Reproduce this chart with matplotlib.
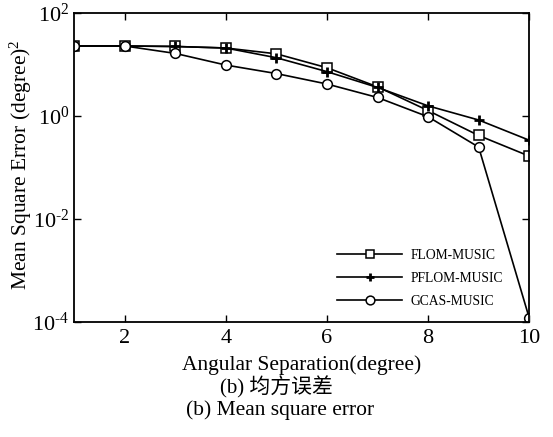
import numpy as np
import matplotlib
matplotlib.use("Agg")
import matplotlib.pyplot as plt
from matplotlib.ticker import FixedLocator, NullLocator

plt.rcParams['font.family'] = ['Liberation Serif', 'Noto Sans CJK SC']
plt.rcParams['mathtext.fontset'] = 'custom'
plt.rcParams['mathtext.rm'] = 'Liberation Serif'
plt.rcParams['mathtext.it'] = 'Liberation Serif:italic'

# Data
angles = [1, 2, 3, 4, 5, 6, 7, 8, 9, 10]
flom_music = [23, 23, 22.5, 21, 16.2, 8.7, 3.7, 1.28, 0.42, 0.167]
pflom_music = [23, 23, 22.5, 21, 13.6, 7.3, 3.6, 1.58, 0.84, 0.34]
gcas_music = [23, 23, 16.5, 9.8, 6.7, 4.2, 2.3, 0.97, 0.25, 1.2e-4]

x_ticks = [2, 4, 6, 8, 10]
y_ticks = [1e-4, 1e-2, 1e0, 1e2]
y_tick_labels = [r'$\mathrm{10}^{\mathrm{\text{-}4}}$', r'$\mathrm{10}^{\mathrm{\text{-}2}}$',
                 r'$\mathrm{10}^{\mathrm{0}}$', r'$\mathrm{10}^{\mathrm{2}}$']

fig = plt.figure(figsize=(5.53, 4.37), dpi=100)
ax = fig.add_axes([0.134, 0.263, 0.823, 0.707])

ax.semilogy(angles, flom_music, color='black', lw=1.2, marker='s', ms=7,
            mfc='white', mec='black', mew=1.1, label='FLOM-MUSIC')
ax.semilogy(angles, pflom_music, color='black', lw=1.2, marker='+', ms=7,
            mew=2.0, label='PFLOM-MUSIC')
ax.semilogy(angles, gcas_music, color='black', lw=1.2, marker='o', ms=7,
            mfc='white', mec='black', mew=1.1, label='GCAS-MUSIC')

ax.set_xlim(1, 10)
ax.set_ylim(1e-4, 1e2)
ax.xaxis.set_major_locator(FixedLocator(x_ticks))
ax.set_xticklabels([str(t) for t in x_ticks])
ax.yaxis.set_major_locator(FixedLocator(y_ticks))
ax.yaxis.set_minor_locator(NullLocator())
ax.set_yticklabels(y_tick_labels)
ax.tick_params(direction='in', length=5, width=1, labelsize=16,
               top=True, right=True)
ax.tick_params(axis='x', pad=5)
for s in ax.spines.values():
    s.set_linewidth(1.3)

ax.set_xlabel('Angular Separation(degree)', fontsize=15.5, labelpad=5)
ax.set_ylabel(r'Mean Square Error (degree)$^\mathrm{2}$', fontsize=15.5)
ax.yaxis.set_label_coords(-0.089, 0.51)

ax.legend(loc='lower left', bbox_to_anchor=(0.578, 0.045), frameon=False,
          fontsize=9.8, handlelength=4.8, labelspacing=0.75,
          handletextpad=0.6, borderpad=0, borderaxespad=0, markerscale=0.9)

fig.text(0.499, 0.113, '(b) 均方误差', ha='center', va='center', fontsize=15)
fig.text(0.506, 0.061, '(b) Mean square error', ha='center', va='center',
         fontsize=15.5)

fig.savefig('out.png', dpi=100)
